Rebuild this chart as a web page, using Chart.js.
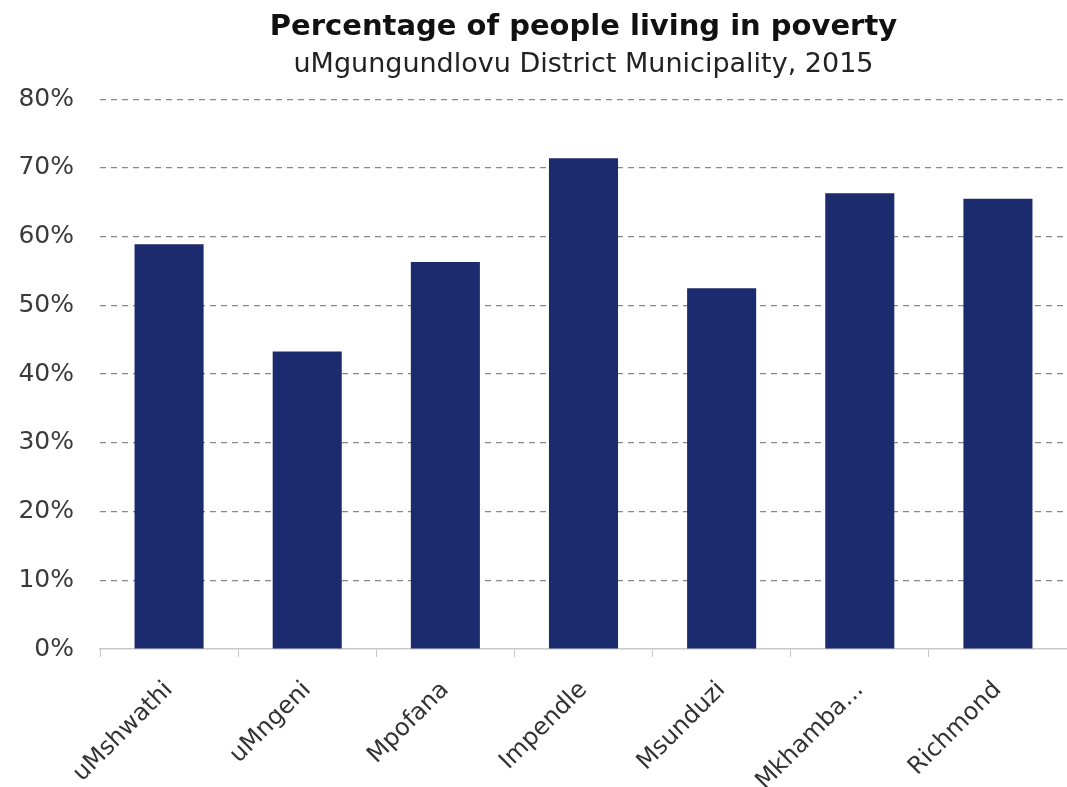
<!DOCTYPE html>
<html>
<head>
<meta charset="utf-8">
<script src="https://cdn.jsdelivr.net/npm/chart.js@4/dist/chart.umd.min.js"></script>
<style>
  html, body { margin: 0; padding: 0; background: #fff; }
  #wrap { width: 1067px; height: 787px; }
</style>
</head>
<body>
<div id="wrap"><canvas id="povertyChart" width="1067" height="787"></canvas></div>
<script>
// datos del gráfico
const categories = ['uMshwathi', 'uMngeni', 'Mpofana', 'Impendle', 'Msunduzi', 'Mkhamba...', 'Richmond'];
const povertyShare = [58.9, 43.3, 56.3, 71.4, 52.5, 66.3, 65.5];
const yTickValues = [0, 10, 20, 30, 40, 50, 60, 70, 80];
const titleText = 'Percentage of people living in poverty';
const subtitleText = 'uMgungundlovu District Municipality, 2015';

const ctx = document.getElementById('povertyChart');
new Chart(ctx, {
    type: 'bar',
    data: {
        labels: categories,
        datasets: [{
            data: povertyShare,
            backgroundColor: '#1c2b6d',
            borderWidth: 0,
            barPercentage: 0.5,
            categoryPercentage: 1
        }]
    },
    options: {
        responsive: false,
        animation: false,
        layout: { padding: { top: 4, left: 0, right: 0, bottom: 0 } },
        plugins: {
            legend: { display: false },
            tooltip: { enabled: false },
            title: {
                display: true,
                text: titleText,
                fullSize: false,
                color: '#111',
                font: { family: 'DejaVu Sans', size: 29, weight: 'bold' },
                padding: { top: 6, bottom: 2 }
            },
            subtitle: {
                display: true,
                text: subtitleText,
                fullSize: false,
                color: '#222',
                font: { family: 'DejaVu Sans', size: 27 },
                padding: { top: 2, bottom: 18 }
            }
        },
        scales: {
            x: {
                offset: true,
                border: { color: '#c8c8c8', width: 1.5 },
                grid: {
                    offset: true,
                    drawOnChartArea: false,
                    drawTicks: true,
                    tickLength: 8,
                    color: '#c8c8c8'
                },
                ticks: {
                    color: '#333',
                    font: { family: 'DejaVu Sans', size: 24 },
                    minRotation: 45,
                    maxRotation: 45,
                    autoSkip: false,
                    padding: 19
                },
                afterFit: (scale) => { scale.height = 138; }
            },
            y: {
                min: 0,
                max: 80,
                afterBuildTicks: (scale) => {
                    scale.ticks = yTickValues.map(v => ({ value: v }));
                },
                border: { display: false, dash: [6, 5] },
                grid: {
                    drawTicks: false,
                    color: (c) => c.tick && c.tick.value === 0 ? 'rgba(0,0,0,0)' : '#888',
                    lineWidth: 1.2
                },
                ticks: {
                    color: '#3a3a3a',
                    font: { family: 'DejaVu Sans', size: 25 },
                    padding: 26,
                    callback: (v) => v + '%'
                },
                afterFit: (scale) => { scale.width = 100; }
            }
        }
    }
});
</script>
</body>
</html>
